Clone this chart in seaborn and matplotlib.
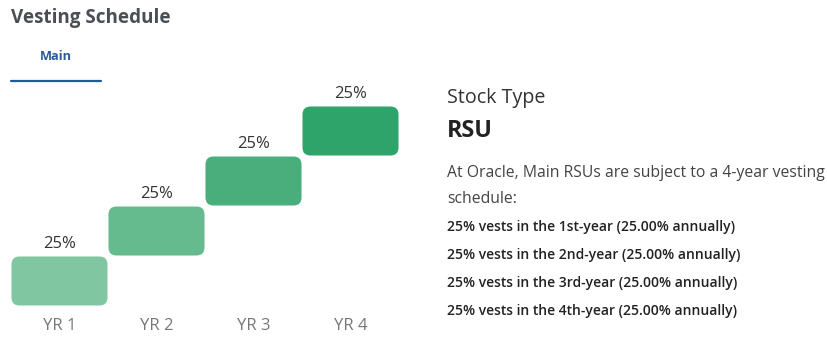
import numpy as np
import seaborn as sns
import matplotlib.pyplot as plt
from matplotlib.patches import FancyBboxPatch

years = ["YR 1", "YR 2", "YR 3", "YR 4"]
vest_pct = [25, 25, 25, 25]
bar_colors = ["#80c7a1", "#65ba8e", "#4aae7c", "#2ea46a"]
vest_lines = [
    "25% vests in the 1st-year (25.00% annually)",
    "25% vests in the 2nd-year (25.00% annually)",
    "25% vests in the 3rd-year (25.00% annually)",
    "25% vests in the 4th-year (25.00% annually)",
]

sns.set_theme(style="white")
plt.rcParams["font.family"] = ["Open Sans", "DejaVu Sans"]

W, H = 828, 351
fig = plt.figure(figsize=(W / 100, H / 100), dpi=100)

# chart axes: x 11..399 px, y 106..306 px from top
ax = fig.add_axes([11 / W, (H - 306) / H, 388 / W, 200 / H])
sns.barplot(x=years, y=vest_pct, hue=years, palette=bar_colors,
            saturation=1, width=0.99, legend=False, ax=ax)
ax.set_xlim(-0.5, 3.5)
ax.set_ylim(0, 100)

# turn the plain bars into floating, rounded steps
bottoms = np.concatenate([[0], np.cumsum(vest_pct)[:-1]])
px_x = 4 / 388  # data units per px, x
px_y = 100 / 200  # data units per px, y
for patch, b, v in zip(list(ax.patches), bottoms, vest_pct):
    x0, w = patch.get_x(), patch.get_width()
    fc = patch.get_facecolor()
    patch.remove()
    box = FancyBboxPatch(
        (x0, b + px_y * 0.5), w, v - px_y,
        boxstyle=f"round,pad=0,rounding_size={8 * px_x}",
        mutation_aspect=px_y / px_x,
        facecolor=fc, edgecolor="none",
    )
    ax.add_patch(box)
    ax.text(x0 + w / 2, b + v + 6, f"{v}%", ha="center", va="center",
            fontsize=12, color="#333333")

ax.set_xticks(range(len(years)))
ax.set_xticklabels(years, fontsize=12, color="#777777")
ax.tick_params(axis="x", length=0, pad=9)
ax.set_yticks([])
ax.set_ylabel("")
sns.despine(ax=ax, left=True, bottom=True)

# header and tab
fig.text(11 / W, 1 - 18 / H, "Vesting Schedule", fontsize=13.6,
         fontweight="bold", color="#4a4f55", va="center")
fig.text(56 / W, 1 - 57 / H, "Main", fontsize=9.2, fontweight="bold",
         color="#2a5a9a", ha="center", va="center")
fig.add_artist(plt.Line2D([11 / W, 101 / W], [1 - 80.5 / H, 1 - 80.5 / H],
                          color="#1f5b99", lw=1.6))

# right side description
tx = 447 / W
fig.text(tx, 1 - 98 / H, "Stock Type", fontsize=14.2, color="#333333", va="center")
fig.text(tx, 1 - 131 / H, "RSU", fontsize=16.8, fontweight="bold",
         color="#222222", va="center")
fig.text(tx, 1 - 173 / H, "At Oracle, Main RSUs are subject to a 4-year vesting",
         fontsize=11.3, color="#444444", va="center")
fig.text(tx, 1 - 199 / H, "schedule:", fontsize=11.3, color="#444444", va="center")
for i, line in enumerate(vest_lines):
    fig.text(tx, 1 - (227 + 28 * i) / H, line, fontsize=10,
             fontweight="semibold", color="#222222", va="center")

fig.savefig("out.png", dpi=100)
